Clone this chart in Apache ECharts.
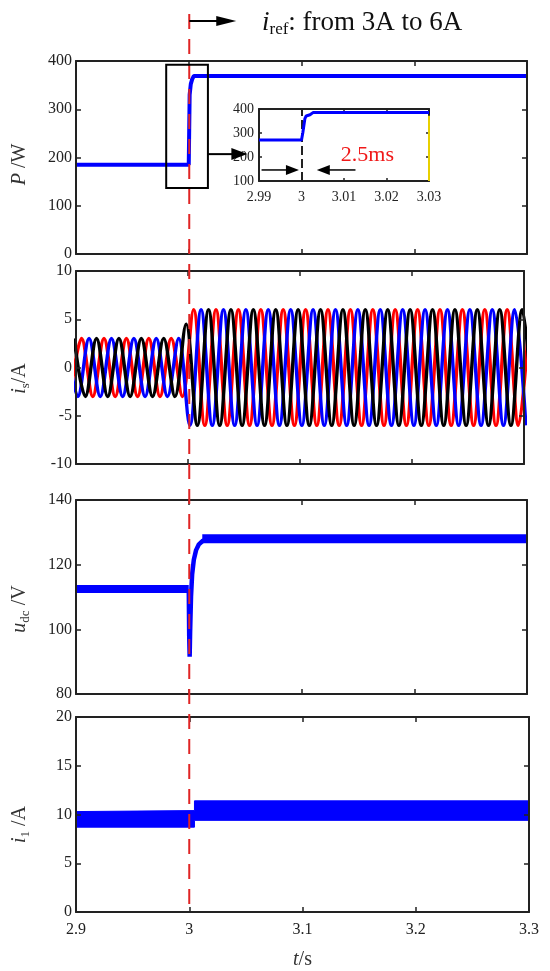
<!DOCTYPE html>
<html>
<head>
<meta charset="utf-8">
<script src="https://cdn.jsdelivr.net/npm/echarts@6/dist/echarts.min.js"></script>
<style>
  html, body { margin: 0; padding: 0; background: #fff; }
  #chart { width: 550px; height: 971px; }
</style>
</head>
<body>
<div id="chart"></div>
<script>
// ---- values ----
const stepTime = 3.0;

// P / W
const pT = [2.9, 3.0, 3.0008, 3.0018, 3.003, 3.0045, 3.3];
const pW = [185, 185, 330, 352, 362, 369, 369];

// zoomed inset of P
const insetT = [2.99, 3.0, 3.0003, 3.0008, 3.0011, 3.0015, 3.002, 3.0027, 3.03];
const insetP = [271, 271, 300, 360, 371, 369, 376, 385, 385];
const insetMarks = [3.0, 3.003];
const insetEdgeP = [372, 100]; // yellow stroke on the inset's right edge

// i_s / A : peak values of each phase, one every half period (50 Hz)
const halfPeriod = 0.01;
const redStart = 2.895;
const blackStart = 2.89833;
const blueStart = 2.89167;
const isRed = [
  -3, 3, -3, 3, -3, 3, -3, 3, -3, 3, -3,
  6, -6, 6, -6, 6, -6, 6, -6, 6, -6,
  6, -6, 6, -6, 6, -6, 6, -6, 6, -6,
  6, -6, 6, -6, 6, -6, 6, -6, 6, -6, 6
];
const isBlack = [
  3, -3, 3, -3, 3, -3, 3, -3, 3, -3, 4.5,
  -6, 6, -6, 6, -6, 6, -6, 6, -6, 6,
  -6, 6, -6, 6, -6, 6, -6, 6, -6, 6,
  -6, 6, -6, 6, -6, 6, -6, 6, -6, 6, -6
];
const isBlue = [
  3, -3, 3, -3, 3, -3, 3, -3, 3, -3, 3,
  -6, 6, -6, 6, -6, 6, -6, 6, -6, 6,
  -6, 6, -6, 6, -6, 6, -6, 6, -6, 6,
  -6, 6, -6, 6, -6, 6, -6, 6, -6, 6, -6
];

// u_dc / V
const udcBeforeT = [2.9, 3.0];
const udcBefore = [112.5, 112.5];
const udcStepT = [3.0, 3.0004, 3.0008, 3.0012, 3.002, 3.003, 3.0045, 3.0065, 3.009, 3.0125, 3.017];
const udcStep = [112.5, 98, 91.5, 99, 110, 117, 121.5, 124.5, 126.3, 127.4, 128];
const udcAfterT = [3.012, 3.3];
const udcAfter = [128, 128];

// i_1 / A (ripple band: lower and upper edge)
const i1T = [2.9, 3.0046, 3.0046, 3.3];
const i1Low = [8.7, 8.7, 9.4, 9.4];
const i1High = [10.3, 10.4, 11.4, 11.4];

// annotations (data coordinates)
const zoomBoxT = [2.98, 3.017];
const zoomBoxP = [137, 392];
const zoomArrowT = [3.017, 3.052];
const zoomArrowP = 207;
const spanArrowP = 146;
const spanLeftT = [2.9906, 2.9994];
const spanRightT = [3.0127, 3.0036];
const spanLabelAt = [3.0155, 208];

// ---- chart ----
const FONT = '"Liberation Serif", "Times New Roman", serif';
const INK = '#222';
const BLUE = '#0000ff';

const chart = echarts.init(document.getElementById('chart'));

const zip = (a, b) => a.map((v, i) => [v, b[i]]);
const peaks = (start, vals) => vals.map((v, i) => [start + i * halfPeriod, v]);

const grids = [
  { left: 73, top: 61, width: 454, height: 193 },
  { left: 71, top: 271, width: 453, height: 193 },
  { left: 70, top: 500, width: 457, height: 194 },
  { left: 72, top: 717, width: 457, height: 195 },
  { left: 259, top: 109, width: 170, height: 72 }
];

const nameRich = {
  it: { fontFamily: FONT, fontSize: 20, fontStyle: 'italic', color: '#333', lineHeight: 24 },
  sub: { fontFamily: FONT, fontSize: 13, color: '#333', verticalAlign: 'bottom', lineHeight: 14 }
};

const xAxes = [];
const yAxes = [];

// each grid gets a closed box: bottom/top x axes, left/right y axes, ticks inside
function addFrame(g, xr, yr, o) {
  const tick = { show: true, inside: true, length: o.tick, lineStyle: { color: INK, width: 1.5 } };
  const line = { show: true, onZero: false, lineStyle: { color: INK, width: 2 } };
  const lab = { fontFamily: FONT, fontSize: o.fs, color: INK };
  xAxes.push({
    type: 'value', gridIndex: g, position: 'bottom', z: 5,
    min: xr[0], max: xr[1], interval: xr[2],
    axisLine: line, axisTick: tick, splitLine: { show: false },
    axisLabel: Object.assign({ show: !!o.xLabels, margin: o.xm || 8 }, lab),
    name: o.xName || '', nameLocation: 'middle', nameGap: 36,
    nameTextStyle: { fontFamily: FONT, fontSize: 20, color: '#333', rich: nameRich }
  });
  xAxes.push({
    type: 'value', gridIndex: g, position: 'top', z: 5,
    min: xr[0], max: xr[1], interval: xr[2],
    axisLine: line, axisTick: tick, splitLine: { show: false },
    axisLabel: { show: false }
  });
  yAxes.push({
    type: 'value', gridIndex: g, position: 'left', z: 5,
    min: yr[0], max: yr[1], interval: yr[2],
    axisLine: line, axisTick: tick, splitLine: { show: false },
    axisLabel: Object.assign({ margin: o.ym || 4 }, lab),
    name: o.yName || '', nameLocation: 'middle', nameGap: o.yGap || 44,
    nameTextStyle: { fontFamily: FONT, fontSize: 20, color: '#333', lineHeight: 24, rich: nameRich, padding: o.yPad || 0 }
  });
  yAxes.push({
    type: 'value', gridIndex: g, position: 'right', z: 5,
    min: yr[0], max: yr[1], interval: yr[2],
    axisLine: line, axisTick: tick, splitLine: { show: false },
    axisLabel: { show: false }
  });
}

addFrame(0, [2.9, 3.3, 0.1], [0, 400, 100], { tick: 5, fs: 16, yName: '{it|P} /W', yPad: [0, 14, 0, 0] });
addFrame(1, [2.9, 3.3, 0.1], [-10, 10, 5], { tick: 5, fs: 16, yName: '{it|i}{sub|s}/A', yPad: [0, 22, 0, 0] });
addFrame(2, [2.9, 3.3, 0.1], [80, 140, 20], { tick: 5, fs: 16, yName: '{it|u}{sub|dc} /V', yPad: [0, 24, 0, 0] });
addFrame(3, [2.9, 3.3, 0.1], [0, 20, 5], { tick: 5, fs: 16, xLabels: true, xm: 10, xName: '{it|t}/s', yName: '{it|i}{sub|1} /A', yPad: [0, 20, 0, 0] });
addFrame(4, [2.99, 3.03, 0.01], [100, 400, 100], { tick: 3, fs: 14, xLabels: true, xm: 9, ym: 5 });

const lineBase = { type: 'line', showSymbol: false, symbol: 'none', silent: true, animation: false };
const onGrid = g => ({ xAxisIndex: 2 * g, yAxisIndex: 2 * g });

const series = [
  Object.assign({}, lineBase, onGrid(0), {
    data: zip(pT, pW), lineStyle: { color: BLUE, width: 4 }
  }),
  Object.assign({}, lineBase, onGrid(1), {
    data: peaks(redStart, isRed), smooth: 0.36, lineStyle: { color: '#ff0000', width: 3.4 }
  }),
  Object.assign({}, lineBase, onGrid(1), {
    data: peaks(blueStart, isBlue), smooth: 0.36, lineStyle: { color: BLUE, width: 3.4 }
  }),
  Object.assign({}, lineBase, onGrid(1), {
    data: peaks(blackStart, isBlack), smooth: 0.36, lineStyle: { color: '#000', width: 3.4 }
  }),
  Object.assign({}, lineBase, onGrid(2), {
    data: zip(udcBeforeT, udcBefore), lineStyle: { color: BLUE, width: 8 }
  }),
  Object.assign({}, lineBase, onGrid(2), {
    data: zip(udcStepT, udcStep), lineStyle: { color: BLUE, width: 4.5 }
  }),
  Object.assign({}, lineBase, onGrid(2), {
    data: zip(udcAfterT, udcAfter), lineStyle: { color: BLUE, width: 9 }
  }),
  // ripple band: blue area up to the upper edge, white area up to the lower edge
  Object.assign({}, lineBase, onGrid(3), {
    data: zip(i1T, i1High), lineStyle: { color: BLUE, width: 1 },
    areaStyle: { color: BLUE, opacity: 1, origin: 'start' }, z: 2
  }),
  Object.assign({}, lineBase, onGrid(3), {
    data: zip(i1T, i1Low), lineStyle: { color: BLUE, width: 1 },
    areaStyle: { color: '#fff', opacity: 1, origin: 'start' }, z: 3
  }),
  Object.assign({}, lineBase, onGrid(4), {
    data: zip(insetT, insetP), lineStyle: { color: BLUE, width: 3 }, z: 10,
    markLine: {
      silent: true, symbol: 'none', animation: false, label: { show: false },
      lineStyle: { color: INK, width: 2, type: [9, 4] },
      data: insetMarks.map(t => ({ xAxis: t }))
    }
  })
];

chart.setOption({
  backgroundColor: '#fff',
  animation: false,
  grid: grids,
  xAxis: xAxes,
  yAxis: yAxes,
  series: series
});

// ---- annotations placed through the axes ----
const px = (g, t, v) => chart.convertToPixel({ xAxisIndex: 2 * g, yAxisIndex: 2 * g }, [t, v]);

function hArrow(x1, x2, y, head, half, w) {
  const dir = x2 > x1 ? 1 : -1;
  return [
    { type: 'line', z: 100, shape: { x1: x1, y1: y, x2: x2 - dir * head * 0.8, y2: y }, style: { stroke: '#000', lineWidth: w } },
    { type: 'polygon', z: 100, shape: { points: [[x2, y], [x2 - dir * head, y - half], [x2 - dir * head, y + half]] }, style: { fill: '#000' } }
  ];
}

const xStep = px(3, stepTime, 0)[0];
const yBottom = px(3, stepTime, 0)[1];

const graphic = [
  { type: 'line', z: 100, shape: { x1: xStep, y1: 14, x2: xStep, y2: yBottom }, style: { stroke: '#e02424', lineWidth: 2, lineDash: [15, 10] } },
  ...hArrow(xStep, xStep + 47, 21, 20, 5, 2),
  {
    type: 'text', z: 100, x: 262, y: 8,
    style: {
      text: '{it|i}{sub|ref}: from 3A to 6A',
      fontFamily: FONT, fontSize: 27, fill: '#111', lineHeight: 30, verticalAlign: 'top',
      rich: {
        it: { fontFamily: FONT, fontSize: 27, fontStyle: 'italic', fill: '#111', lineHeight: 30 },
        sub: { fontFamily: FONT, fontSize: 17, fill: '#111', verticalAlign: 'bottom', lineHeight: 16 }
      }
    }
  }
];

// zoom box in the P panel and its arrow to the inset
const b0 = px(0, zoomBoxT[0], zoomBoxP[1]);
const b1 = px(0, zoomBoxT[1], zoomBoxP[0]);
graphic.push({ type: 'rect', z: 100, shape: { x: b0[0], y: b0[1], width: b1[0] - b0[0], height: b1[1] - b0[1] }, style: { fill: 'none', stroke: '#000', lineWidth: 2 } });
const a0 = px(0, zoomArrowT[0], zoomArrowP);
const a1 = px(0, zoomArrowT[1], zoomArrowP);
graphic.push(...hArrow(a0[0], a1[0], a0[1], 16, 6, 2));

// yellow stroke on the inset's right edge
const e0 = px(4, 3.03, insetEdgeP[0]);
const e1 = px(4, 3.03, insetEdgeP[1]);
graphic.push({ type: 'line', z: 101, shape: { x1: e0[0], y1: e0[1], x2: e1[0], y2: e1[1] }, style: { stroke: '#e8d000', lineWidth: 2 } });

// 2.5 ms span arrows inside the inset
const l0 = px(4, spanLeftT[0], spanArrowP), l1 = px(4, spanLeftT[1], spanArrowP);
const r0 = px(4, spanRightT[0], spanArrowP), r1 = px(4, spanRightT[1], spanArrowP);
graphic.push(...hArrow(l0[0], l1[0], l0[1], 13, 5, 1.5));
graphic.push(...hArrow(r0[0], r1[0], r0[1], 13, 5, 1.5));
const lab = px(4, spanLabelAt[0], spanLabelAt[1]);
graphic.push({
  type: 'text', z: 100, x: lab[0], y: lab[1],
  style: { text: '2.5ms', fontFamily: FONT, fontSize: 22, fill: '#f01818', align: 'center', verticalAlign: 'middle' }
});

chart.setOption({ graphic: graphic });
</script>
</body>
</html>
